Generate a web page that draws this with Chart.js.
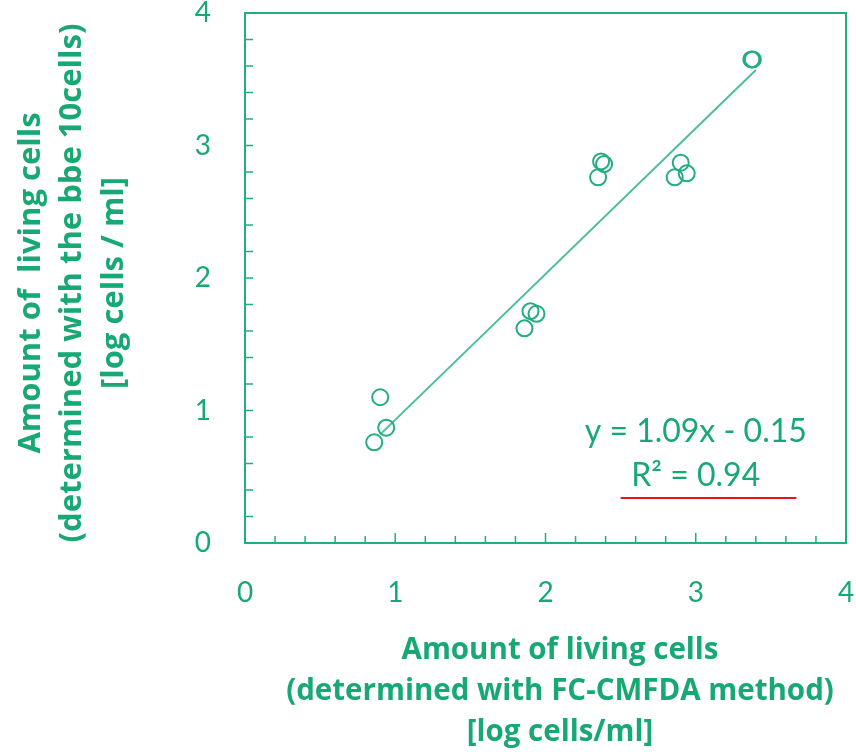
<!DOCTYPE html>
<html>
<head>
<meta charset="utf-8">
<script src="https://cdn.jsdelivr.net/npm/chart.js@4.4.1/dist/chart.umd.min.js"></script>
<style>
  html, body { margin: 0; padding: 0; background: #fff; }
  canvas { display: block; }
</style>
</head>
<body>
<canvas id="scatter" width="856" height="756"></canvas>
<script>
// measured values (log cells/ml)
const fcCmfda = [0.86, 0.90, 0.94, 1.86, 1.90, 1.94, 2.35, 2.37, 2.39, 2.86, 2.90, 2.94, 3.37, 3.38];
const bbe10 = [0.76, 1.10, 0.87, 1.62, 1.75, 1.73, 2.76, 2.88, 2.86, 2.76, 2.87, 2.79, 3.65, 3.65];

// linear trendline ends
const trendX = [0.90, 3.40];
const trendY = [0.82, 3.57];

const equationText = 'y = 1.09x - 0.15';
const r2Text = 'R\u00B2 = 0.94';

const xTitle = ['Amount of living cells', '(determined with FC-CMFDA method)', '[log cells/ml]'];
const yTitle = ['Amount of  living cells', '(determined with the bbe 10cells)', '[log cells / ml]'];

const green = '#22ae7e';
const textGreen = '#17a874';
const fontName = 'Lato, "Open Sans", sans-serif';
const titleFont = '"Open Sans", Lato, sans-serif';

const points = fcCmfda.map((x, i) => ({ x: x, y: bbe10[i] }));
const trend = trendX.map((x, i) => ({ x: x, y: trendY[i] }));

// box, inside ticks, titles, equation
const decorations = {
  id: 'decorations',
  afterDraw(chart) {
    const ctx = chart.ctx;
    const area = chart.chartArea;
    const xs = chart.scales.x;
    const ys = chart.scales.y;
    ctx.save();
    ctx.strokeStyle = green;
    ctx.lineWidth = 2;
    ctx.strokeRect(area.left, area.top, area.right - area.left, area.bottom - area.top);

    ctx.lineWidth = 1.5;
    xs.ticks.forEach(t => {
      const px = xs.getPixelForValue(t.value);
      const major = Math.abs(t.value - Math.round(t.value)) < 1e-6;
      ctx.beginPath();
      ctx.moveTo(px, area.bottom);
      ctx.lineTo(px, area.bottom - (major ? 10 : 7));
      ctx.stroke();
    });
    ys.ticks.forEach(t => {
      const py = ys.getPixelForValue(t.value);
      ctx.beginPath();
      ctx.moveTo(area.left, py);
      ctx.lineTo(area.left + 8, py);
      ctx.stroke();
    });

    // regression text
    ctx.fillStyle = textGreen;
    ctx.textAlign = 'center';
    ctx.textBaseline = 'middle';
    ctx.font = '32px ' + fontName;
    ctx.fillText(equationText, xs.getPixelForValue(3.0), ys.getPixelForValue(0.84));
    ctx.fillText(r2Text, xs.getPixelForValue(3.0), ys.getPixelForValue(0.51));

    ctx.strokeStyle = '#e8141c';
    ctx.lineWidth = 2;
    ctx.beginPath();
    ctx.moveTo(xs.getPixelForValue(2.50), ys.getPixelForValue(0.34));
    ctx.lineTo(xs.getPixelForValue(3.67), ys.getPixelForValue(0.34));
    ctx.stroke();

    // x title
    ctx.fillStyle = textGreen;
    ctx.font = 'bold 29.5px ' + titleFont;
    ctx.fillText(xTitle[0], 560, area.bottom + 108);
    ctx.fillText(xTitle[1], 560, area.bottom + 149);
    ctx.fillText(xTitle[2], 560, area.bottom + 190);

    // y title
    const cy = (area.top + area.bottom) / 2 + 5;
    ctx.font = 'bold 31px ' + titleFont;
    [31, 72, 114].forEach((cx, i) => {
      ctx.save();
      ctx.translate(cx, cy);
      ctx.rotate(-Math.PI / 2);
      ctx.fillText(yTitle[i], 0, 0);
      ctx.restore();
    });
    ctx.restore();
  }
};

const config = {
  type: 'scatter',
  data: {
    datasets: [
      {
        data: points,
        pointStyle: 'circle',
        pointRadius: 8,
        pointHoverRadius: 8,
        pointBorderWidth: 2,
        borderColor: green,
        backgroundColor: 'rgba(0,0,0,0)',
        order: 1,
      },
      {
        type: 'line',
        data: trend,
        borderColor: '#4cbf95',
        borderWidth: 2,
        pointRadius: 0,
        fill: false,
        order: 2,
      },
    ],
  },
  options: {
    responsive: false,
    animation: false,
    layout: {
      padding: { top: 13, right: 9, left: 0, bottom: 0 },
    },
    scales: {
      x: {
        type: 'linear',
        min: 0,
        max: 4,
        afterFit: s => { s.height = 213; s.paddingLeft = 0; s.paddingRight = 0; },
        ticks: {
          stepSize: 0.2,
          autoSkip: false,
          maxRotation: 0,
          padding: 33,
          color: textGreen,
          font: { family: fontName, size: 28 },
          callback: v => Math.abs(v - Math.round(v)) < 1e-6 ? String(Math.round(v)) : '',
        },
        grid: { display: false, drawTicks: false },
        border: { display: false },
      },
      y: {
        type: 'linear',
        min: 0,
        max: 4,
        afterFit: s => { s.width = 245; s.paddingTop = 0; s.paddingBottom = 0; },
        ticks: {
          stepSize: 0.2,
          autoSkip: false,
          padding: 34,
          color: textGreen,
          font: { family: fontName, size: 28 },
          callback: v => Math.abs(v - Math.round(v)) < 1e-6 ? String(Math.round(v)) : '',
        },
        grid: { display: false, drawTicks: false },
        border: { display: false },
      },
    },
    plugins: {
      legend: { display: false },
      tooltip: { enabled: false },
    },
  },
  plugins: [decorations],
};

new Chart(document.getElementById('scatter'), config);
</script>
</body>
</html>
